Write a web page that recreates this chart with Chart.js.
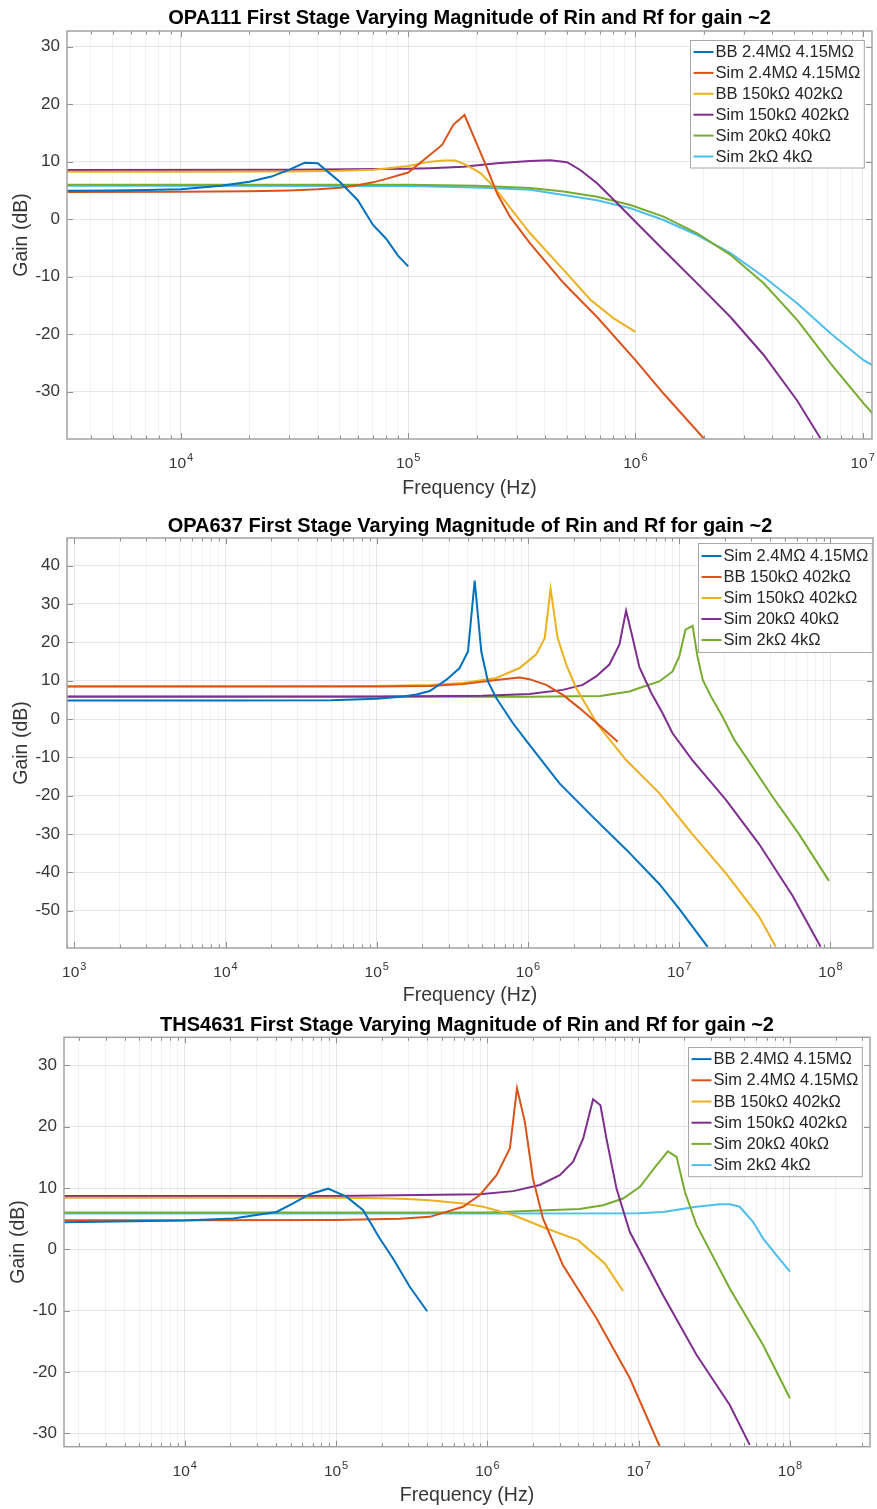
<!DOCTYPE html>
<html>
<head>
<meta charset="utf-8">
<script src="https://cdn.jsdelivr.net/npm/chart.js@4.4.1/dist/chart.umd.min.js"></script>
<style>
html,body{margin:0;padding:0;background:#fff;overflow:hidden;}
.wrap{position:absolute;left:0;width:877px;}
</style>
</head>
<body>
<div class="wrap" style="top:0;height:502px"><canvas id="c1"></canvas></div>
<div class="wrap" style="top:502px;height:505px"><canvas id="c2"></canvas></div>
<div class="wrap" style="top:1007px;height:502px"><canvas id="c3"></canvas></div>
<script>
// ---------------- colours (MATLAB default order) ----------------
const COLORS = ['#0072BD', '#D95319', '#EDB120', '#7E2F8E', '#77AC30', '#4DBEEE'];

// ---------------- chart titles ----------------
const TITLE_1 = 'OPA111 First Stage Varying Magnitude of Rin and Rf for gain ~2';
const TITLE_2 = 'OPA637 First Stage Varying Magnitude of Rin and Rf for gain ~2';
const TITLE_3 = 'THS4631 First Stage Varying Magnitude of Rin and Rf for gain ~2';
const X_TITLE = 'Frequency (Hz)';
const Y_TITLE = 'Gain (dB)';

// ---------------- OPA111 ----------------
const opa111Labels = ['BB 2.4MΩ 4.15MΩ', 'Sim 2.4MΩ 4.15MΩ', 'BB 150kΩ 402kΩ', 'Sim 150kΩ 402kΩ', 'Sim 20kΩ 40kΩ', 'Sim 2kΩ 4kΩ'];
const opa111_bb2M4_f  = [3000, 5000, 7000, 10000, 15000, 20000, 25000, 30000, 35000, 40000, 45000, 50000, 60000, 70000, 80000, 90000, 100000];
const opa111_bb2M4_db = [4.95, 5.0, 5.05, 5.2, 5.8, 6.5, 7.4, 8.6, 9.8, 9.7, 8.0, 6.5, 3.3, -1.0, -3.4, -6.3, -8.2];
const opa111_sim2M4_f  = [3000, 10000, 20000, 30000, 40000, 50000, 60000, 70000, 80000, 100000, 117000, 141000, 158000, 177000, 194000, 218000, 246000, 281000, 344000, 483000, 678000, 1000000, 1330000, 2000000];
const opa111_sim2M4_db = [4.7, 4.75, 4.85, 5.0, 5.2, 5.45, 5.9, 6.4, 7.0, 8.1, 10.3, 12.9, 16.4, 18.1, 14.4, 9.7, 4.5, 0.4, -4.2, -11.1, -17.0, -24.5, -30.3, -38.1];
const opa111_bb150k_f  = [3000, 10000, 30000, 50000, 70000, 80000, 100000, 125000, 143000, 161000, 181000, 208000, 238000, 344000, 483000, 634000, 800000, 1000000];
const opa111_bb150k_db = [8.25, 8.25, 8.3, 8.4, 8.6, 8.8, 9.25, 10.0, 10.2, 10.2, 9.4, 8.0, 5.65, -2.45, -8.8, -14.0, -17.2, -19.6];
const opa111_sim150k_f  = [3000, 30000, 100000, 125000, 175000, 246000, 344000, 422000, 500000, 572000, 678000, 830000, 1000000, 1330000, 1870000, 2620000, 3670000, 5150000, 6530000];
const opa111_sim150k_db = [8.55, 8.6, 8.75, 8.85, 9.1, 9.7, 10.1, 10.25, 9.9, 8.55, 6.25, 2.8, -0.45, -5.35, -11.15, -17.0, -23.6, -31.5, -38.1];
const opa111_sim20k_f  = [3000, 100000, 200000, 344000, 483000, 678000, 951000, 1330000, 1870000, 2620000, 3670000, 5150000, 7240000, 10100000, 11100000];
const opa111_sim20k_db = [6.0, 6.0, 5.8, 5.4, 4.8, 3.9, 2.45, 0.45, -2.45, -6.2, -11.15, -17.5, -25.1, -32.0, -33.8];
const opa111_sim2k_f  = [3000, 100000, 200000, 344000, 483000, 678000, 951000, 1330000, 1870000, 2620000, 3670000, 5150000, 7240000, 10100000, 11100000];
const opa111_sim2k_db = [5.8, 5.75, 5.5, 5.1, 4.2, 3.3, 1.9, -0.15, -2.75, -5.9, -10.0, -14.6, -19.85, -24.5, -25.4];

// ---------------- OPA637 ----------------
const opa637Labels = ['Sim 2.4MΩ 4.15MΩ', 'BB 150kΩ 402kΩ', 'Sim 150kΩ 402kΩ', 'Sim 20kΩ 40kΩ', 'Sim 2kΩ 4kΩ'];
const opa637_sim2M4_f  = [850, 10000, 50000, 100000, 150000, 183000, 224000, 288000, 353000, 401000, 444000, 491000, 543000, 617000, 795000, 1020000, 1610000, 2680000, 4450000, 7380000, 10000000, 15400000];
const opa637_sim2M4_db = [4.8, 4.8, 4.9, 5.3, 5.9, 6.4, 7.3, 10.2, 13.3, 17.6, 36.1, 17.6, 9.8, 5.5, -1.1, -6.7, -16.7, -25.5, -34.0, -43.0, -49.5, -59.4];
const opa637_bb150k_f  = [850, 10000, 100000, 224000, 372000, 617000, 879000, 1020000, 1320000, 1700000, 2190000, 2750000, 3920000];
const opa637_bb150k_db = [8.45, 8.45, 8.5, 8.6, 9.1, 10.2, 10.8, 10.4, 8.9, 6.3, 2.85, -0.5, -5.9];
const opa637_sim150k_f  = [850, 10000, 100000, 224000, 372000, 617000, 879000, 1130000, 1290000, 1410000, 1570000, 1790000, 2080000, 2890000, 4450000, 7380000, 12200000, 20300000, 33700000, 43500000];
const opa637_sim150k_db = [8.55, 8.55, 8.6, 8.9, 9.4, 10.7, 13.3, 16.8, 21.1, 34.0, 21.1, 14.2, 8.1, -1.5, -10.7, -19.3, -30.0, -40.2, -51.5, -59.4];
const opa637_sim20k_f  = [850, 100000, 500000, 1020000, 1700000, 2300000, 2820000, 3450000, 4020000, 4450000, 4920000, 5450000, 6500000, 7760000, 9030000, 12200000, 20300000, 33700000, 56000000, 86000000];
const opa637_sim20k_db = [5.9, 5.9, 6.1, 6.5, 7.6, 8.9, 11.1, 14.2, 19.4, 28.25, 21.1, 13.5, 7.0, 1.5, -3.7, -10.7, -21.0, -32.6, -46.0, -59.4];
const opa637_sim2k_f  = [850, 1000000, 3000000, 4680000, 5450000, 7380000, 9030000, 10000000, 11000000, 12250000, 13200000, 14300000, 16200000, 19300000, 23100000, 27500000, 41300000, 61900000, 97700000];
const opa637_sim2k_db = [5.8, 5.8, 6.0, 7.2, 8.1, 9.8, 12.4, 16.3, 23.3, 24.3, 16.3, 10.2, 5.9, 0.65, -5.4, -9.8, -20.2, -30.0, -42.2];

// ---------------- THS4631 ----------------
const ths4631Labels = ['BB 2.4MΩ 4.15MΩ', 'Sim 2.4MΩ 4.15MΩ', 'BB 150kΩ 402kΩ', 'Sim 150kΩ 402kΩ', 'Sim 20kΩ 40kΩ', 'Sim 2kΩ 4kΩ'];
const ths_bb2M4_f  = [1550, 10000, 20900, 31300, 40400, 52000, 67000, 88500, 117000, 151000, 194000, 238000, 307000, 400000];
const ths_bb2M4_db = [4.4, 4.7, 5.05, 5.7, 6.1, 7.5, 9.0, 9.9, 8.6, 6.4, 1.8, -1.5, -6.1, -10.1];
const ths_sim2M4_f  = [1550, 10000, 100000, 264000, 416000, 691000, 891000, 1150000, 1410000, 1570000, 1770000, 2000000, 2330000, 3160000, 5260000, 8730000, 13800000];
const ths_sim2M4_db = [4.75, 4.75, 4.8, 5.0, 5.3, 6.95, 8.85, 12.1, 16.5, 26.3, 20.8, 11.6, 5.05, -2.6, -11.25, -21.0, -32.2];
const ths_bb150k_f  = [1550, 10000, 100000, 200000, 292000, 416000, 691000, 938000, 1480000, 2460000, 3980000, 5970000, 7890000];
const ths_bb150k_db = [8.4, 8.4, 8.4, 8.35, 8.2, 8.0, 7.5, 6.95, 5.6, 3.4, 1.5, -2.3, -6.8];
const ths_sim150k_f  = [1550, 100000, 891000, 1480000, 2220000, 3010000, 3690000, 4300000, 5000000, 5590000, 6120000, 7130000, 8730000, 14500000, 24100000, 40000000, 54200000];
const ths_sim150k_db = [8.7, 8.7, 9.0, 9.5, 10.5, 12.1, 14.3, 18.1, 24.5, 23.5, 18.1, 9.95, 2.87, -7.5, -17.2, -25.4, -31.9];
const ths_sim20k_f  = [1550, 1000000, 4080000, 5820000, 7890000, 10200000, 13100000, 15600000, 17800000, 20200000, 24100000, 40000000, 66400000, 100000000];
const ths_sim20k_db = [6.0, 6.0, 6.6, 7.2, 8.3, 10.2, 13.7, 16.0, 15.1, 9.4, 4.0, -6.4, -15.6, -24.3];
const ths_sim2k_f  = [1550, 1000000, 10000000, 14500000, 24100000, 34400000, 40000000, 46500000, 57000000, 66400000, 81300000, 100000000];
const ths_sim2k_db = [5.85, 5.85, 5.9, 6.1, 6.95, 7.35, 7.35, 6.95, 4.5, 1.8, -0.93, -3.65];

// ---------------- axis ranges / ticks ----------------
const X_RANGE_1 = [3150, 1.1e7],  Y_RANGE_1 = [-38.2, 32.7];
const X_RANGE_2 = [895, 1.91e8],  Y_RANGE_2 = [-59.7, 47.2];
const X_RANGE_3 = [1592, 3.38e8], Y_RANGE_3 = [-32.2, 34.6];
const Y_STEP = 10;

// ---------------- helpers ----------------
function isPow10(v){ const l = Math.log10(v); return Math.abs(l - Math.round(l)) < 1e-9; }
function logTicks(min, max){
  const out = [];
  for (let e = Math.floor(Math.log10(min)); e <= Math.ceil(Math.log10(max)); e++) {
    for (let m = 1; m <= 9; m++) {
      const v = m * Math.pow(10, e);
      if (v >= min * 0.9999 && v <= max * 1.0001) out.push({value: v});
    }
  }
  return out;
}
function linTicks(min, max, step){
  const out = [];
  for (let v = Math.ceil(min / step) * step; v <= max + 1e-9; v += step) out.push({value: v});
  return out;
}
function pairs(f, g){ return f.map((v, i) => ({x: v, y: g[i]})); }

const FONT = '"Liberation Sans", Arial, Helvetica, sans-serif';
const TEXT_COLOR = '#363636';

// frame with inward ticks, power-of-ten tick labels and boxed legend
const framePlugin = {
  id: 'matlabFrame',
  afterDatasetsDraw(chart, args, o) {
    const {ctx, chartArea: a} = chart;
    const xs = chart.scales.x, ys = chart.scales.y;
    ctx.save();
    ctx.strokeStyle = '#8f8f8f';
    ctx.lineWidth = 1;
    ctx.beginPath();
    xs.ticks.forEach(t => {
      const px = Math.round(xs.getPixelForValue(t.value)) + 0.5;
      const len = isPow10(t.value) ? 6 : 3.5;
      ctx.moveTo(px, a.bottom); ctx.lineTo(px, a.bottom - len);
      ctx.moveTo(px, a.top); ctx.lineTo(px, a.top + len);
    });
    ys.ticks.forEach(t => {
      const py = Math.round(ys.getPixelForValue(t.value)) + 0.5;
      ctx.moveTo(a.left, py); ctx.lineTo(a.left + 6, py);
      ctx.moveTo(a.right, py); ctx.lineTo(a.right - 6, py);
    });
    ctx.stroke();
    ctx.lineWidth = 1.5;
    ctx.strokeStyle = '#a3a3a3';
    ctx.strokeRect(a.left, a.top, a.right - a.left, a.bottom - a.top);

    // x tick labels: 10 with raised exponent
    ctx.fillStyle = TEXT_COLOR;
    ctx.textBaseline = 'alphabetic';
    ctx.textAlign = 'left';
    xs.ticks.forEach(t => {
      if (!isPow10(t.value)) return;
      const px = xs.getPixelForValue(t.value);
      const ex = String(Math.round(Math.log10(t.value)));
      ctx.font = '15.5px ' + FONT;
      const w1 = ctx.measureText('10').width;
      ctx.font = '11px ' + FONT;
      const w2 = ctx.measureText(ex).width;
      const x0 = px - (w1 + w2 + 1) / 2;
      const base = a.bottom + 29;
      ctx.font = '15.5px ' + FONT;
      ctx.fillText('10', x0, base);
      ctx.font = '11px ' + FONT;
      ctx.fillText(ex, x0 + w1 + 1, base - 6.8);
    });

    // legend
    const ds = chart.data.datasets;
    ctx.font = '16.5px ' + FONT;
    let maxW = 0;
    ds.forEach(d => { maxW = Math.max(maxW, ctx.measureText(d.label).width); });
    const padL = 3, lineLen = 20, gap = 2, padR = 4;
    const w = padL + lineLen + gap + maxW + padR;
    const h = o.firstRow * 2 + o.rowH * (ds.length - 1);
    const bx = Math.round(a.right - o.inset - w) + 0.5;
    const by = Math.round(a.top + o.top) + 0.5;
    ctx.fillStyle = '#ffffff';
    ctx.fillRect(bx, by, w, h);
    ctx.lineWidth = 1;
    ctx.strokeStyle = '#a8a8a8';
    ctx.strokeRect(bx, by, w, h);
    ctx.textBaseline = 'middle';
    ctx.textAlign = 'left';
    ds.forEach((d, i) => {
      const ry = by + o.firstRow + i * o.rowH;
      ctx.strokeStyle = d.borderColor;
      ctx.lineWidth = 2;
      ctx.beginPath();
      ctx.moveTo(bx + padL, ry); ctx.lineTo(bx + padL + lineLen, ry);
      ctx.stroke();
      ctx.fillStyle = '#262626';
      ctx.fillText(d.label, bx + padL + lineLen + gap, ry + 0.5);
    });
    ctx.restore();
  }
};

function makeChart(id, g) {
  const datasets = g.series.map((s, i) => ({
    label: g.labels[i],
    data: pairs(s[0], s[1]),
    borderColor: COLORS[i],
    backgroundColor: COLORS[i],
    borderWidth: 2,
    pointRadius: 0,
    tension: 0,
    fill: false
  }));
  return new Chart(document.getElementById(id), {
    type: 'line',
    data: { datasets },
    plugins: [framePlugin],
    options: {
      responsive: true,
      maintainAspectRatio: false,
      animation: false,
      devicePixelRatio: 1,
      events: [],
      layout: { padding: { left: 0, right: g.padRight, top: 0, bottom: 0 } },
      plugins: {
        legend: { display: false },
        tooltip: { enabled: false },
        title: {
          display: true, text: g.title, fullSize: false,
          color: '#000000',
          font: { family: FONT, size: 20, weight: 'bold', lineHeight: 1.2 },
          padding: { top: g.titlePadTop, bottom: g.titlePadBottom }
        },
        matlabFrame: g.legend
      },
      scales: {
        x: {
          type: 'logarithmic',
          position: 'bottom',
          min: g.xRange[0], max: g.xRange[1],
          afterBuildTicks: (sc) => { sc.ticks = logTicks(g.xRange[0], g.xRange[1]); },
          afterFit: (sc) => { sc.height = g.xAxisH; sc.paddingLeft = 0; sc.paddingRight = 0; },
          grid: {
            drawTicks: false,
            color: (c) => (c.tick && isPow10(c.tick.value)) ? 'rgba(0,0,0,0.10)' : 'rgba(0,0,0,0.05)',
            lineWidth: 1
          },
          border: { display: false },
          ticks: {
            autoSkip: false, maxRotation: 0, minRotation: 0, padding: 13,
            color: TEXT_COLOR,
            font: { family: FONT, size: 15.5 },
            callback: () => ''
          },
          title: {
            display: true, text: X_TITLE, color: TEXT_COLOR,
            font: { family: FONT, size: 19.5, lineHeight: 1.2 },
            padding: { top: 0, bottom: g.xTitlePad }
          }
        },
        y: {
          type: 'linear',
          position: 'left',
          min: g.yRange[0], max: g.yRange[1],
          afterBuildTicks: (sc) => { sc.ticks = linTicks(g.yRange[0], g.yRange[1], Y_STEP); },
          afterFit: (sc) => { sc.width = g.yAxisW; sc.paddingTop = 0; sc.paddingBottom = 0; },
          grid: { drawTicks: false, color: 'rgba(0,0,0,0.09)', lineWidth: 1 },
          border: { display: false },
          ticks: {
            padding: 7, color: TEXT_COLOR,
            font: { family: FONT, size: 17 },
            callback: (v) => String(v)
          },
          title: {
            display: true, text: Y_TITLE, color: TEXT_COLOR,
            font: { family: FONT, size: 19.5, lineHeight: 1.2 },
            padding: { top: g.yTitlePad, bottom: 0 }
          }
        }
      }
    }
  });
}

makeChart('c1', {
  title: TITLE_1, labels: opa111Labels,
  series: [
    [opa111_bb2M4_f, opa111_bb2M4_db], [opa111_sim2M4_f, opa111_sim2M4_db],
    [opa111_bb150k_f, opa111_bb150k_db], [opa111_sim150k_f, opa111_sim150k_db],
    [opa111_sim20k_f, opa111_sim20k_db], [opa111_sim2k_f, opa111_sim2k_db]
  ],
  xRange: X_RANGE_1, yRange: Y_RANGE_1,
  padRight: 5, yAxisW: 67, xAxisH: 63,
  titlePadTop: 6, titlePadBottom: 1, xTitlePad: 1.3, yTitlePad: 10.3,
  legend: { inset: 8, top: 9, firstRow: 11.5, rowH: 20.9 }
});
makeChart('c2', {
  title: TITLE_2, labels: opa637Labels,
  series: [
    [opa637_sim2M4_f, opa637_sim2M4_db], [opa637_bb150k_f, opa637_bb150k_db],
    [opa637_sim150k_f, opa637_sim150k_db], [opa637_sim20k_f, opa637_sim20k_db],
    [opa637_sim2k_f, opa637_sim2k_db]
  ],
  xRange: X_RANGE_2, yRange: Y_RANGE_2,
  padRight: 4, yAxisW: 67, xAxisH: 59,
  titlePadTop: 12, titlePadBottom: 0, xTitlePad: 0.1, yTitlePad: 10.3,
  legend: { inset: 1, top: 5.3, firstRow: 12.5, rowH: 21 }
});
makeChart('c3', {
  title: TITLE_3, labels: ths4631Labels,
  series: [
    [ths_bb2M4_f, ths_bb2M4_db], [ths_sim2M4_f, ths_sim2M4_db],
    [ths_bb150k_f, ths_bb150k_db], [ths_sim150k_f, ths_sim150k_db],
    [ths_sim20k_f, ths_sim20k_db], [ths_sim2k_f, ths_sim2k_db]
  ],
  xRange: X_RANGE_3, yRange: Y_RANGE_3,
  padRight: 7, yAxisW: 64, xAxisH: 62.3,
  titlePadTop: 6, titlePadBottom: 0.3, xTitlePad: 1.3, yTitlePad: 6.6,
  legend: { inset: 8, top: 9.4, firstRow: 11.6, rowH: 21.2 }
});
</script>
</body>
</html>
